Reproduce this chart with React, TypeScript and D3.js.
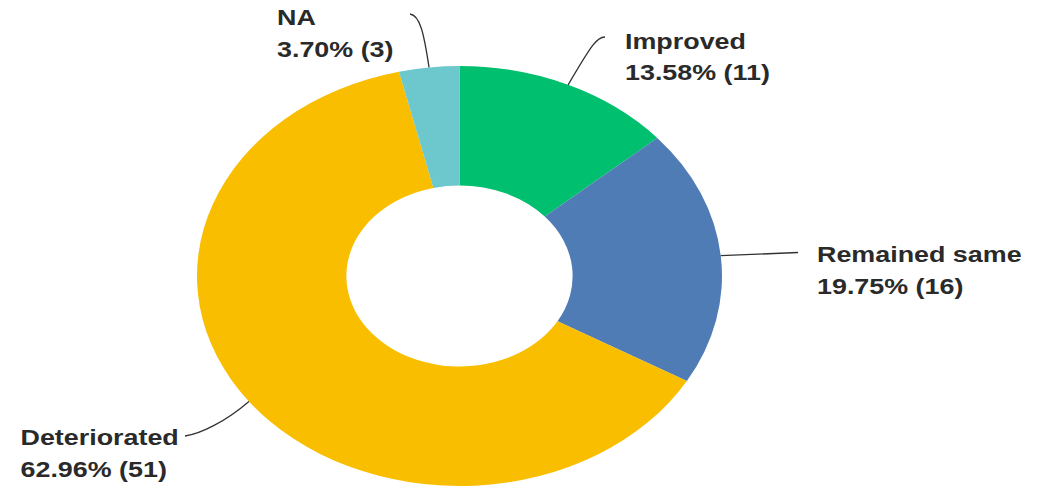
import React from "react";
import * as d3 from "d3";

const categories = ["Improved", "Remained same", "Deteriorated", "NA"];
const counts = [11, 16, 51, 3];
const percents = ["13.58%", "19.75%", "62.96%", "3.70%"];
const colors = ["#00bf6f", "#507cb6", "#f9be00", "#6cc8cc"];

const W = 1046;
const H = 493;
const cx = 459.5;
const cy = 276;
const R = 210;
const r0 = 90.5;
const sx = 1.25; // the whole picture is stretched horizontally

// label placement: left x and first baseline, plus where the connector ends
const labelPos = [
  { x: 625, y: 48.5, end: [605, 37], c1: [592, 44], c2: [597, 37] },
  { x: 817, y: 262, end: [798, 252.5], c1: [760, 254], c2: [780, 253] },
  { x: 20.5, y: 445, end: [185, 436], c1: [225, 422], c2: [200, 434] },
  { x: 277, y: 25, end: [410, 14], c1: [424, 34], c2: [420, 15] },
];

const App = () => {
  const data = categories.map((c, i) => ({ c, v: counts[i], p: percents[i], i }));
  const pie = d3.pie<any>().value((d) => d.v).sort(null);
  const arcs = pie(data);
  const arc = d3.arc<any>().innerRadius(r0).outerRadius(R);

  return (
    <svg width={W} height={H} style={{ display: "block", position: "absolute", left: 0, top: 0 }}>
      <rect width={W} height={H} fill="#ffffff" />
      <g transform={`translate(${cx},${cy}) scale(${sx},1)`}>
        {arcs.map((a, i) => (
          <path key={i} d={arc(a) || ""} fill={colors[i]} />
        ))}
      </g>
      {arcs.map((a, i) => {
        const mid = (a.startAngle + a.endAngle) / 2;
        const ax = cx + Math.sin(mid) * R * sx;
        const ay = cy - Math.cos(mid) * R;
        const L = labelPos[i];
        const path = d3.path();
        path.moveTo(ax, ay);
        path.bezierCurveTo(L.c1[0], L.c1[1], L.c2[0], L.c2[1], L.end[0], L.end[1]);
        return (
          <g key={i}>
            <path d={path.toString()} fill="none" stroke="#333333" strokeWidth={1.3} />
            <g transform={`translate(${L.x},${L.y}) scale(${sx},1)`}>
              <text
                fontFamily="'Liberation Sans', Arial, sans-serif"
                fontWeight="bold"
                fontSize={21.5}
                fill="#2a2a2a"
              >
                <tspan x={0} y={0}>{a.data.c}</tspan>
                <tspan x={0} y={31.7}>{`${a.data.p} (${a.data.v})`}</tspan>
              </text>
            </g>
          </g>
        );
      })}
    </svg>
  );
};

export default App;
